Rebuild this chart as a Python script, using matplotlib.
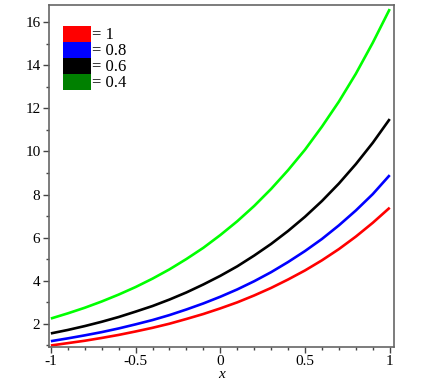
import glob
import matplotlib.pyplot as plt
from matplotlib import font_manager
from matplotlib.patches import Rectangle
from matplotlib.ticker import MultipleLocator, FuncFormatter

# values
x = [-1.0, -0.9, -0.8, -0.7, -0.6, -0.5, -0.4, -0.3, -0.2, -0.1, 0.0,
     0.1, 0.2, 0.3, 0.4, 0.5, 0.6, 0.7, 0.8, 0.9, 1.0]
y_a10 = [1.00, 1.11, 1.22, 1.35, 1.49, 1.65, 1.82, 2.01, 2.23, 2.46, 2.72,
         3.00, 3.32, 3.67, 4.06, 4.48, 4.95, 5.47, 6.05, 6.69, 7.39]
y_a08 = [1.20, 1.33, 1.47, 1.62, 1.79, 1.98, 2.18, 2.41, 2.67, 2.95, 3.26,
         3.60, 3.98, 4.40, 4.87, 5.38, 5.94, 6.57, 7.26, 8.02, 8.90]
y_a06 = [1.56, 1.72, 1.90, 2.10, 2.32, 2.57, 2.83, 3.13, 3.46, 3.83, 4.23,
         4.67, 5.17, 5.71, 6.31, 6.97, 7.70, 8.51, 9.41, 10.40, 11.50]
y_a04 = [2.25, 2.49, 2.75, 3.04, 3.36, 3.71, 4.10, 4.53, 5.01, 5.53, 6.12,
         6.76, 7.47, 8.26, 9.13, 10.08, 11.15, 12.31, 13.60, 15.04, 16.60]
labels = ['= 1', '= 0.8', '= 0.6', '= 0.4']
colors = ['#ff0000', '#0000ff', '#000000', '#008000']
line_colors = ['#ff0000', '#0000ff', '#000000', '#00ff00']

# make sure the Times-like serif is registered
for f in glob.glob('/usr/share/fonts/**/LiberationSerif*.ttf', recursive=True):
    font_manager.fontManager.addfont(f)
plt.rcParams['font.family'] = ['Liberation Serif', 'DejaVu Serif']
plt.rcParams['mathtext.fontset'] = 'stix'

fig = plt.figure(figsize=(4.48, 3.83), dpi=100)
ax = fig.add_axes([0.109, 0.094, 0.770, 0.893])

for ys, c in zip([y_a10, y_a08, y_a06, y_a04], line_colors):
    ax.plot(x, ys, color=c, linewidth=1.9, solid_capstyle='butt')

ax.set_xlim(-1.012, 1.024)
ax.set_ylim(0.93, 16.79)
ax.xaxis.set_major_locator(MultipleLocator(0.5))
ax.xaxis.set_minor_locator(MultipleLocator(0.1))
ax.yaxis.set_major_locator(MultipleLocator(2))
ax.yaxis.set_minor_locator(MultipleLocator(1))
ax.xaxis.set_major_formatter(FuncFormatter(lambda v, p: ('%g' % v).replace('\u2212', '-')))
ax.yaxis.set_major_formatter(FuncFormatter(lambda v, p: '%g' % v))
ax.tick_params(which='major', length=4, width=1, labelsize=11, color='#444444', pad=2)
ax.tick_params(which='minor', length=2, width=1, color='#444444')
for s in ax.spines.values():
    s.set_color('#666666')
    s.set_linewidth(1.2)

ax.set_xlabel('x', fontstyle='italic', fontsize=11, labelpad=0)

handles = [Rectangle((0, 0), 1, 1, facecolor=c, edgecolor='none') for c in colors]
ax.legend(handles, labels, loc='upper left', bbox_to_anchor=(0.041, 0.94),
          frameon=False, fontsize=12, handlelength=1.7, handleheight=1.1,
          labelspacing=-0.1, handletextpad=0.05, borderpad=0, borderaxespad=0)

fig.savefig('out.png', dpi=100)
